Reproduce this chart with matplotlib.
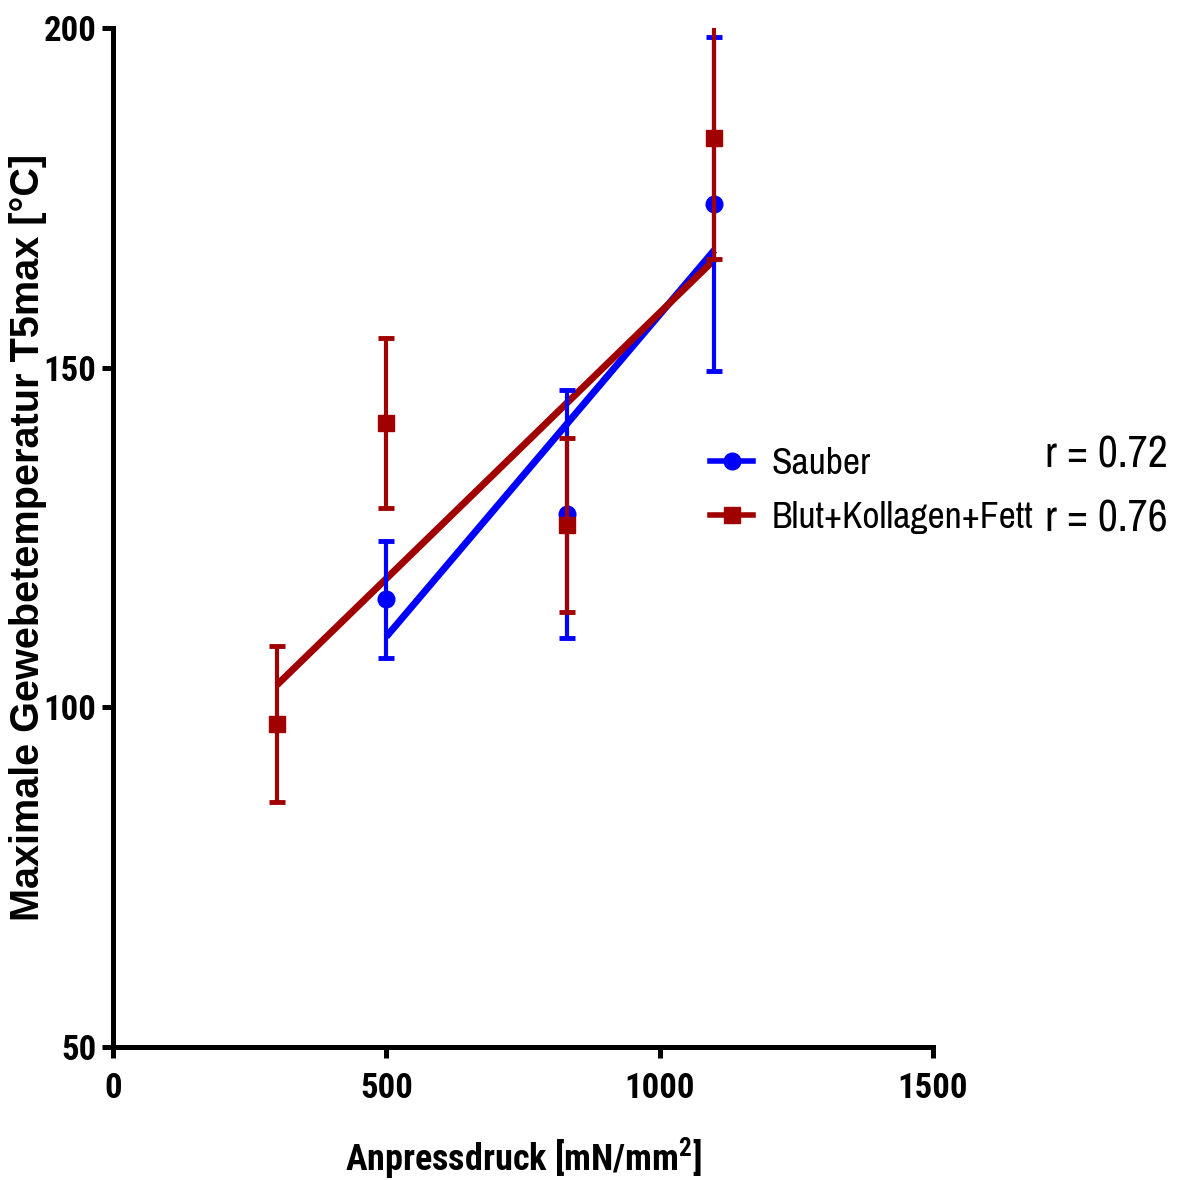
import matplotlib
matplotlib.use('Agg')
import matplotlib.pyplot as plt
from matplotlib.lines import Line2D
from matplotlib import font_manager

# pick narrow sans fonts that are installed (Arial Narrow look-alikes)
candidates = ['Liberation Sans Narrow', 'Arial Narrow', 'Archivo Narrow', 'Roboto Condensed',
              'PT Sans Narrow', 'Pragati Narrow', 'IBM Plex Sans Condensed',
              'Fira Sans Condensed', 'Encode Sans Condensed', 'Barlow Semi Condensed',
              'Sofia Sans Condensed', 'Liberation Sans']
fonts = font_manager.fontManager.ttflist
regular = set(f.name for f in fonts if f.style == 'normal')
bold = set(f.name for f in fonts if f.style == 'normal' and
           (f.weight == 'bold' or (isinstance(f.weight, int) and f.weight >= 700)))
NARROW = [c for c in candidates if c in regular][0]
NARROW_BOLD = [c for c in candidates if c in bold][0]

plt.rcParams['mathtext.default'] = 'regular'

# Data
druck_sauber = [500, 830, 1100]
temp_sauber = [115.9, 128.5, 174.1]
sd_sauber = [8.6, 18.25, 24.55]

druck_blut = [300, 500, 830, 1100]
temp_blut = [97.5, 141.8, 126.85, 183.8]
sd_blut = [11.5, 12.5, 12.75, 17.85]

# linear regression lines (end points)
fit_sauber_x = [500, 1100]
fit_sauber_y = [110.4, 167.3]
fit_blut_x = [300, 1100]
fit_blut_y = [103.3, 165.9]

labels = ['Sauber', 'Blut+Kollagen+Fett']
r_werte = ['r = 0.72', 'r = 0.76']

BLUE = '#0000ff'
RED = '#a00000'

fig = plt.figure(figsize=(11.82, 11.80), dpi=100)
ax = fig.add_axes([113/1182, 1 - 1047/1180, 820/1182, 1019/1180])

ax.plot(fit_sauber_x, fit_sauber_y, color=BLUE, lw=5, solid_capstyle='butt', zorder=2)
ax.plot(fit_blut_x, fit_blut_y, color=RED, lw=5, solid_capstyle='butt', zorder=3)

ax.errorbar(druck_sauber, temp_sauber, yerr=sd_sauber, fmt='o', color=BLUE,
            ms=12, elinewidth=3, capsize=6, capthick=3.5, zorder=4)
ax.errorbar(druck_blut, temp_blut, yerr=sd_blut, fmt='s', color=RED,
            ms=12, elinewidth=3, capsize=6, capthick=3.5, zorder=5)

ax.set_xlim(0, 1500)
ax.set_ylim(50, 200)
ax.set_xticks([0, 500, 1000, 1500])
ax.set_yticks([50, 100, 150, 200])

for s in ['top', 'right']:
    ax.spines[s].set_visible(False)
for s in ['left', 'bottom']:
    ax.spines[s].set_linewidth(3.6)
ax.tick_params(direction='out', length=8, width=3.6)
ax.tick_params(axis='x', pad=10)
ax.tick_params(axis='y', pad=4)
for lab in ax.get_xticklabels() + ax.get_yticklabels():
    lab.set_fontfamily(NARROW_BOLD)
    lab.set_fontweight('bold')
    lab.set_fontsize(25)

ax.set_xlabel('Anpressdruck [mN/mm$^{2}$]', family=NARROW_BOLD, fontweight='bold',
              fontsize=26, labelpad=22)
ax.set_ylabel('Maximale Gewebetemperatur T5max [°C]', family='Liberation Sans',
              fontweight='bold', fontsize=28.5)
ax.yaxis.set_label_coords(-0.080, 0.5)

handles = [Line2D([], [], color=BLUE, marker='o', lw=4, ms=12),
           Line2D([], [], color=RED, marker='s', lw=4, ms=12)]
leg = fig.legend(handles, labels, loc='upper left', bbox_to_anchor=(710/1182, 1 - 447/1180),
                 frameon=False, prop={'family': NARROW, 'size': 27},
                 handlelength=1.15, handletextpad=0.5, labelspacing=0.55,
                 borderpad=0, borderaxespad=0)

fig.text(1168/1182, 1 - 468/1180, r_werte[0], ha='right', va='baseline',
         family=NARROW, fontsize=31.5)
fig.text(1168/1182, 1 - 532/1180, r_werte[1], ha='right', va='baseline',
         family=NARROW, fontsize=31.5)

fig.savefig('out.png', dpi=100)
